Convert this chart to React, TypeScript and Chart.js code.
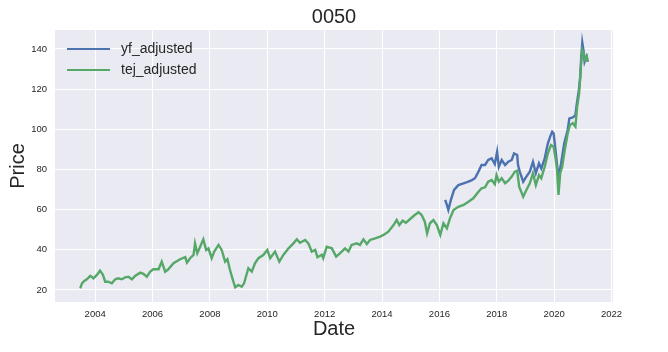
import React, { useEffect, useRef } from "react";
import { Chart, registerables } from "chart.js";

Chart.register(...registerables);

const titleText = "0050";
const xAxisLabel = "Date";
const yAxisLabel = "Price";
const seriesLabels = ["yf_adjusted", "tej_adjusted"];

const xTickYears = [2004, 2006, 2008, 2010, 2012, 2014, 2016, 2018, 2020, 2022];
const yTickValues = [20, 40, 60, 80, 100, 120, 140];

const tejYears = [
  2003.48, 2003.54, 2003.62, 2003.71, 2003.83, 2003.94, 2004.06, 2004.17, 2004.27, 2004.35,
  2004.46, 2004.58, 2004.70, 2004.81, 2004.93, 2005.05, 2005.16, 2005.28, 2005.39, 2005.57,
  2005.68, 2005.80, 2005.92, 2006.03, 2006.21, 2006.32, 2006.44, 2006.55, 2006.73, 2006.96,
  2007.14, 2007.20, 2007.31, 2007.43, 2007.48, 2007.56, 2007.66, 2007.77, 2007.87, 2007.95,
  2008.06, 2008.15, 2008.30, 2008.41, 2008.53, 2008.61, 2008.70, 2008.80, 2008.88, 2008.99,
  2009.11, 2009.19, 2009.34, 2009.46, 2009.57, 2009.69, 2009.86, 2010.00, 2010.10, 2010.27,
  2010.42, 2010.56, 2010.74, 2010.91, 2011.03, 2011.14, 2011.32, 2011.43, 2011.55, 2011.67,
  2011.75, 2011.90, 2011.95, 2012.07, 2012.25, 2012.40, 2012.54, 2012.71, 2012.83, 2012.94,
  2013.12, 2013.23, 2013.35, 2013.47, 2013.58, 2013.76, 2013.93, 2014.05, 2014.22, 2014.40,
  2014.51, 2014.60, 2014.72, 2014.83, 2014.97, 2015.14, 2015.27, 2015.38, 2015.49, 2015.57,
  2015.67, 2015.79, 2015.91, 2016.03, 2016.14, 2016.26, 2016.37, 2016.49, 2016.66, 2016.84,
  2017.01, 2017.18, 2017.36, 2017.47, 2017.59, 2017.70, 2017.82, 2017.93, 2017.99, 2018.07,
  2018.17, 2018.29, 2018.40, 2018.52, 2018.63, 2018.71, 2018.78, 2018.92, 2019.03, 2019.15,
  2019.26, 2019.36, 2019.47, 2019.55, 2019.67, 2019.78, 2019.89, 2019.98, 2020.04, 2020.10,
  2020.15, 2020.21, 2020.28, 2020.35, 2020.47, 2020.55, 2020.65, 2020.74, 2020.80, 2020.87,
  2020.92, 2020.98, 2021.02, 2021.08, 2021.14, 2021.17,
];
const tejPrices = [
  20.8, 23.3, 24.5, 25.3, 27.0, 25.8, 27.5, 29.6, 27.5, 24.1,
  24.1, 23.3, 25.3, 25.8, 25.3, 26.3, 26.6, 25.3, 27.0, 28.6,
  28.0, 26.6, 29.1, 30.3, 30.3, 34.1, 29.1, 30.3, 33.3, 35.3,
  36.3, 33.6, 35.8, 37.4, 43.2, 38.3, 41.5, 45.2, 39.9, 40.7,
  35.8, 39.1, 42.4, 39.9, 34.1, 35.3, 29.9, 25.0, 21.3, 22.5,
  21.6, 23.3, 30.8, 29.1, 33.3, 35.8, 37.4, 39.9, 35.8, 39.1,
  34.1, 37.4, 40.7, 43.2, 45.2, 43.5, 44.9, 43.2, 39.1, 39.9,
  36.3, 37.5, 35.8, 41.5, 40.7, 36.6, 38.3, 40.7, 39.1, 42.4,
  43.2, 42.4, 45.2, 42.9, 44.9, 45.7, 46.5, 47.4, 49.0, 52.3,
  54.8, 52.3, 54.5, 53.5, 55.2, 57.3, 58.7, 57.3, 54.0, 48.2,
  53.2, 54.8, 52.3, 47.4, 53.2, 50.7, 55.7, 59.8, 61.4, 62.3,
  63.9, 65.6, 68.9, 70.6, 71.1, 73.9, 74.7, 72.7, 77.2, 73.9,
  75.6, 73.1, 74.4, 76.4, 78.9, 79.4, 71.4, 66.4, 69.8, 73.1,
  78.1, 72.2, 77.2, 75.6, 81.3, 88.0, 92.1, 91.3, 86.3, 79.7,
  67.3, 78.1, 81.3, 88.0, 97.9, 102.1, 103.0, 101.3, 111.2, 117.9,
  129.5, 139.4, 137.8, 134.5, 136.1, 133.6,
];

const yfYears = [
  2016.20, 2016.26, 2016.31, 2016.40, 2016.51, 2016.66, 2016.84, 2017.01, 2017.13, 2017.24,
  2017.36, 2017.47, 2017.59, 2017.70, 2017.82, 2017.93, 2018.01, 2018.07, 2018.17, 2018.29,
  2018.40, 2018.52, 2018.60, 2018.71, 2018.74, 2018.80, 2018.92, 2019.03, 2019.15, 2019.26,
  2019.36, 2019.47, 2019.55, 2019.67, 2019.78, 2019.86, 2019.93, 2019.98, 2020.04, 2020.12,
  2020.15, 2020.24, 2020.35, 2020.47, 2020.53, 2020.65, 2020.74, 2020.79, 2020.86, 2020.91,
  2020.94, 2020.98, 2021.02, 2021.06, 2021.12, 2021.17,
];
const yfPrices = [
  64.8, 62.3, 59.8, 64.8, 69.8, 72.2, 73.1, 73.9, 74.7, 75.6,
  78.9, 82.2, 82.2, 84.7, 85.5, 82.7, 88.8, 81.3, 84.7, 82.2,
  83.8, 84.7, 88.0, 87.2, 82.2, 78.9, 73.9, 76.4, 78.9, 83.8,
  78.1, 83.0, 80.5, 85.5, 93.0, 96.3, 98.8, 98.0, 90.5, 79.7,
  76.4, 83.0, 93.0, 99.6, 105.4, 105.9, 107.0, 112.8, 119.5, 126.1,
  135.3, 143.1, 139.4, 133.6, 136.1, 133.6,
];

const seriesColors = ["#4C72B0", "#55A868"];
const textColor = "#262626";
const fontFamily = "'Liberation Sans', Arial, Helvetica, sans-serif";

const toPoints = (xs: number[], ys: number[]) => xs.map((x, i) => ({ x, y: ys[i] }));

const backgroundPlugin = {
  id: "seabornBg",
  beforeDraw(chart: any) {
    const { ctx, chartArea, width, height } = chart;
    ctx.save();
    ctx.fillStyle = "#ffffff";
    ctx.fillRect(0, 0, width, height);
    ctx.fillStyle = "#EAEAF2";
    ctx.fillRect(chartArea.left, chartArea.top, chartArea.right - chartArea.left, chartArea.bottom - chartArea.top);
    ctx.restore();
  },
};

const innerLegendPlugin = {
  id: "innerLegend",
  afterDraw(chart: any) {
    const { ctx, chartArea } = chart;
    const order = [1, 0];
    ctx.save();
    ctx.font = `14px ${fontFamily}`;
    ctx.textBaseline = "middle";
    ctx.textAlign = "left";
    order.forEach((dsIndex, row) => {
      const ds = chart.data.datasets[dsIndex];
      const y = chartArea.top + 19 + row * 21;
      const x0 = chartArea.left + 12;
      ctx.strokeStyle = ds.borderColor;
      ctx.lineWidth = 2;
      ctx.beginPath();
      ctx.moveTo(x0, y);
      ctx.lineTo(x0 + 43, y);
      ctx.stroke();
      ctx.fillStyle = textColor;
      ctx.fillText(ds.label, x0 + 54, y);
    });
    ctx.restore();
  },
};

export default function App() {
  const canvasRef = useRef<HTMLCanvasElement | null>(null);

  useEffect(() => {
    const canvas = canvasRef.current;
    if (!canvas) return;
    Chart.defaults.font.family = fontFamily;
    Chart.defaults.color = textColor;
    const chart = new Chart(canvas, {
      type: "line",
      data: {
        datasets: [
          {
            label: seriesLabels[1],
            data: toPoints(tejYears, tejPrices),
            borderColor: seriesColors[1],
            backgroundColor: seriesColors[1],
            borderWidth: 2.4,
            pointRadius: 0,
            tension: 0,
            order: 0,
          },
          {
            label: seriesLabels[0],
            data: toPoints(yfYears, yfPrices),
            borderColor: seriesColors[0],
            backgroundColor: seriesColors[0],
            borderWidth: 2.4,
            pointRadius: 0,
            tension: 0,
            order: 1,
          },
        ],
      },
      options: {
        responsive: false,
        animation: false,
        devicePixelRatio: 1,
        layout: { padding: { left: 0, right: 0, top: 0, bottom: 0 } },
        plugins: {
          legend: { display: false },
          tooltip: { enabled: false },
          title: {
            display: true,
            text: titleText,
            color: textColor,
            font: { size: 20, weight: "normal", lineHeight: 1.2 },
            padding: { top: 5, bottom: 1 },
          },
        },
        scales: {
          x: {
            type: "linear",
            min: 2002.6,
            max: 2022.05,
            afterBuildTicks: (scale: any) => {
              scale.ticks = xTickYears.map((v) => ({ value: v }));
            },
            afterFit: (scale: any) => {
              scale.height = 50;
            },
            ticks: {
              autoSkip: false,
              maxRotation: 0,
              padding: 7,
              color: textColor,
              font: { size: 9.5 },
              callback: (v: any) => String(v),
            },
            grid: { color: "#ffffff", lineWidth: 1, drawTicks: false },
            border: { display: false },
            title: {
              display: true,
              text: xAxisLabel,
              color: textColor,
              font: { size: 20, lineHeight: 1.2 },
              padding: { top: 0, bottom: 11 },
            },
          },
          y: {
            type: "linear",
            min: 14.0,
            max: 149.4,
            afterBuildTicks: (scale: any) => {
              scale.ticks = yTickValues.map((v) => ({ value: v }));
            },
            afterFit: (scale: any) => {
              scale.width = 55;
            },
            ticks: {
              padding: 8,
              color: textColor,
              font: { size: 9.5 },
              callback: (v: any) => String(v),
            },
            grid: { color: "#ffffff", lineWidth: 1, drawTicks: false },
            border: { display: false },
            title: {
              display: true,
              text: yAxisLabel,
              color: textColor,
              font: { size: 20, lineHeight: 1.2 },
              padding: { top: 6, bottom: 0 },
            },
          },
          yRightSpacer: {
            type: "linear",
            position: "right",
            min: 0,
            max: 1,
            afterFit: (scale: any) => {
              scale.width = 55;
            },
            ticks: { display: false },
            grid: { display: false, drawTicks: false },
            border: { display: false },
            title: { display: false },
          },
        },
      },
      plugins: [backgroundPlugin, innerLegendPlugin],
    });
    return () => chart.destroy();
  }, []);

  return (
    <div style={{ position: "fixed", left: 0, top: 0, width: 668, height: 352, background: "#fff" }}>
      <canvas ref={canvasRef} width={668} height={352} />
    </div>
  );
}
